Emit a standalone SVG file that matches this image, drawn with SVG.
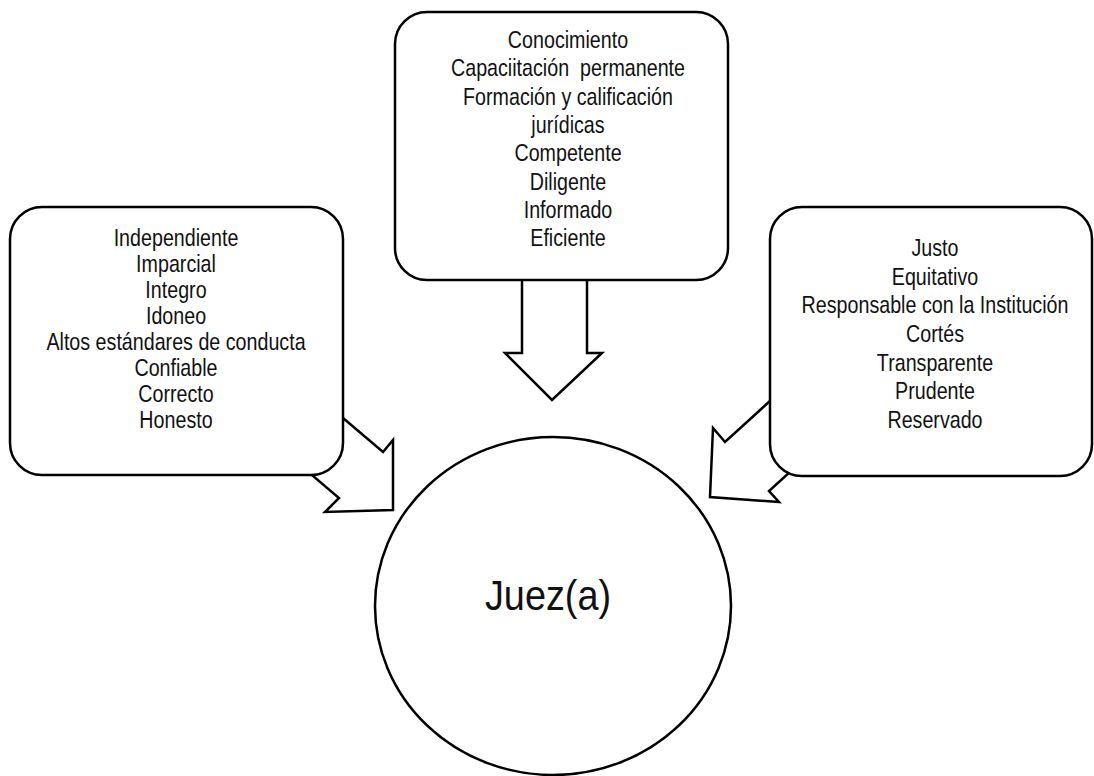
<svg xmlns="http://www.w3.org/2000/svg" width="1094" height="776" viewBox="0 0 1094 776">
  <style>
    .box { fill: #ffffff; stroke: #000000; stroke-width: 2.5; }
    .arrow { fill: #ffffff; stroke: #000000; stroke-width: 2.5; stroke-linejoin: miter; }
    .lbl { font-family: "Liberation Sans", Arial, sans-serif; font-size: 24px; fill: #111111; text-anchor: middle; }
    .title { font-family: "Liberation Sans", Arial, sans-serif; font-size: 43px; fill: #111111; text-anchor: middle; }
  </style>
  <rect width="1094" height="776" fill="#ffffff"/>

  <!-- block arrows pointing to the central node (shafts run behind the boxes) -->
  <g id="connectors">
    <polygon class="arrow" points="522,270 587,270 587,353 602,353 552,400 505,353 522,353"/>
    <polygon class="arrow" points="303,384 383,452 393,440 393,510 325,512 339,498 259,430"/>
    <polygon class="arrow" points="815,360 725,442 713,428 710,497 779,502 769,491 859,409"/>
  </g>

  <g id="node-top">
    <rect class="box" x="395" y="12" width="333" height="268" rx="32"/>
    <g transform="translate(568,0) scale(0.82,1)">
      <text class="lbl" x="0" y="48">Conocimiento</text>
      <text class="lbl" x="0" y="76.5">Capaciitación&#160; permanente</text>
      <text class="lbl" x="0" y="105">Formación y calificación</text>
      <text class="lbl" x="0" y="133">jurídicas</text>
      <text class="lbl" x="0" y="161.5">Competente</text>
      <text class="lbl" x="0" y="190">Diligente</text>
      <text class="lbl" x="0" y="218">Informado</text>
      <text class="lbl" x="0" y="246.5">Eficiente</text>
    </g>
  </g>

  <g id="node-left">
    <rect class="box" x="10" y="207" width="333" height="268" rx="32"/>
    <g transform="translate(176,0) scale(0.82,1)">
      <text class="lbl" x="0" y="246.5">Independiente</text>
      <text class="lbl" x="0" y="272.5">Imparcial</text>
      <text class="lbl" x="0" y="298.5">Integro</text>
      <text class="lbl" x="0" y="324">Idoneo</text>
      <text class="lbl" x="0" y="350">Altos estándares de conducta</text>
      <text class="lbl" x="0" y="376">Confiable</text>
      <text class="lbl" x="0" y="402">Correcto</text>
      <text class="lbl" x="0" y="428">Honesto</text>
    </g>
  </g>

  <g id="node-right">
    <rect class="box" x="770" y="207" width="322" height="269" rx="32"/>
    <g transform="translate(935,0) scale(0.82,1)">
      <text class="lbl" x="0" y="256.5">Justo</text>
      <text class="lbl" x="0" y="285">Equitativo</text>
      <text class="lbl" x="0" y="313.5">Responsable con la Institución</text>
      <text class="lbl" x="0" y="342">Cortés</text>
      <text class="lbl" x="0" y="371">Transparente</text>
      <text class="lbl" x="0" y="399.5">Prudente</text>
      <text class="lbl" x="0" y="428">Reservado</text>
    </g>
  </g>

  <g id="node-center">
    <ellipse class="box" cx="553" cy="606" rx="178" ry="169"/>
    <g transform="translate(548,0) scale(0.88,1)">
      <text class="title" x="0" y="610">Juez(a)</text>
    </g>
  </g>
</svg>
